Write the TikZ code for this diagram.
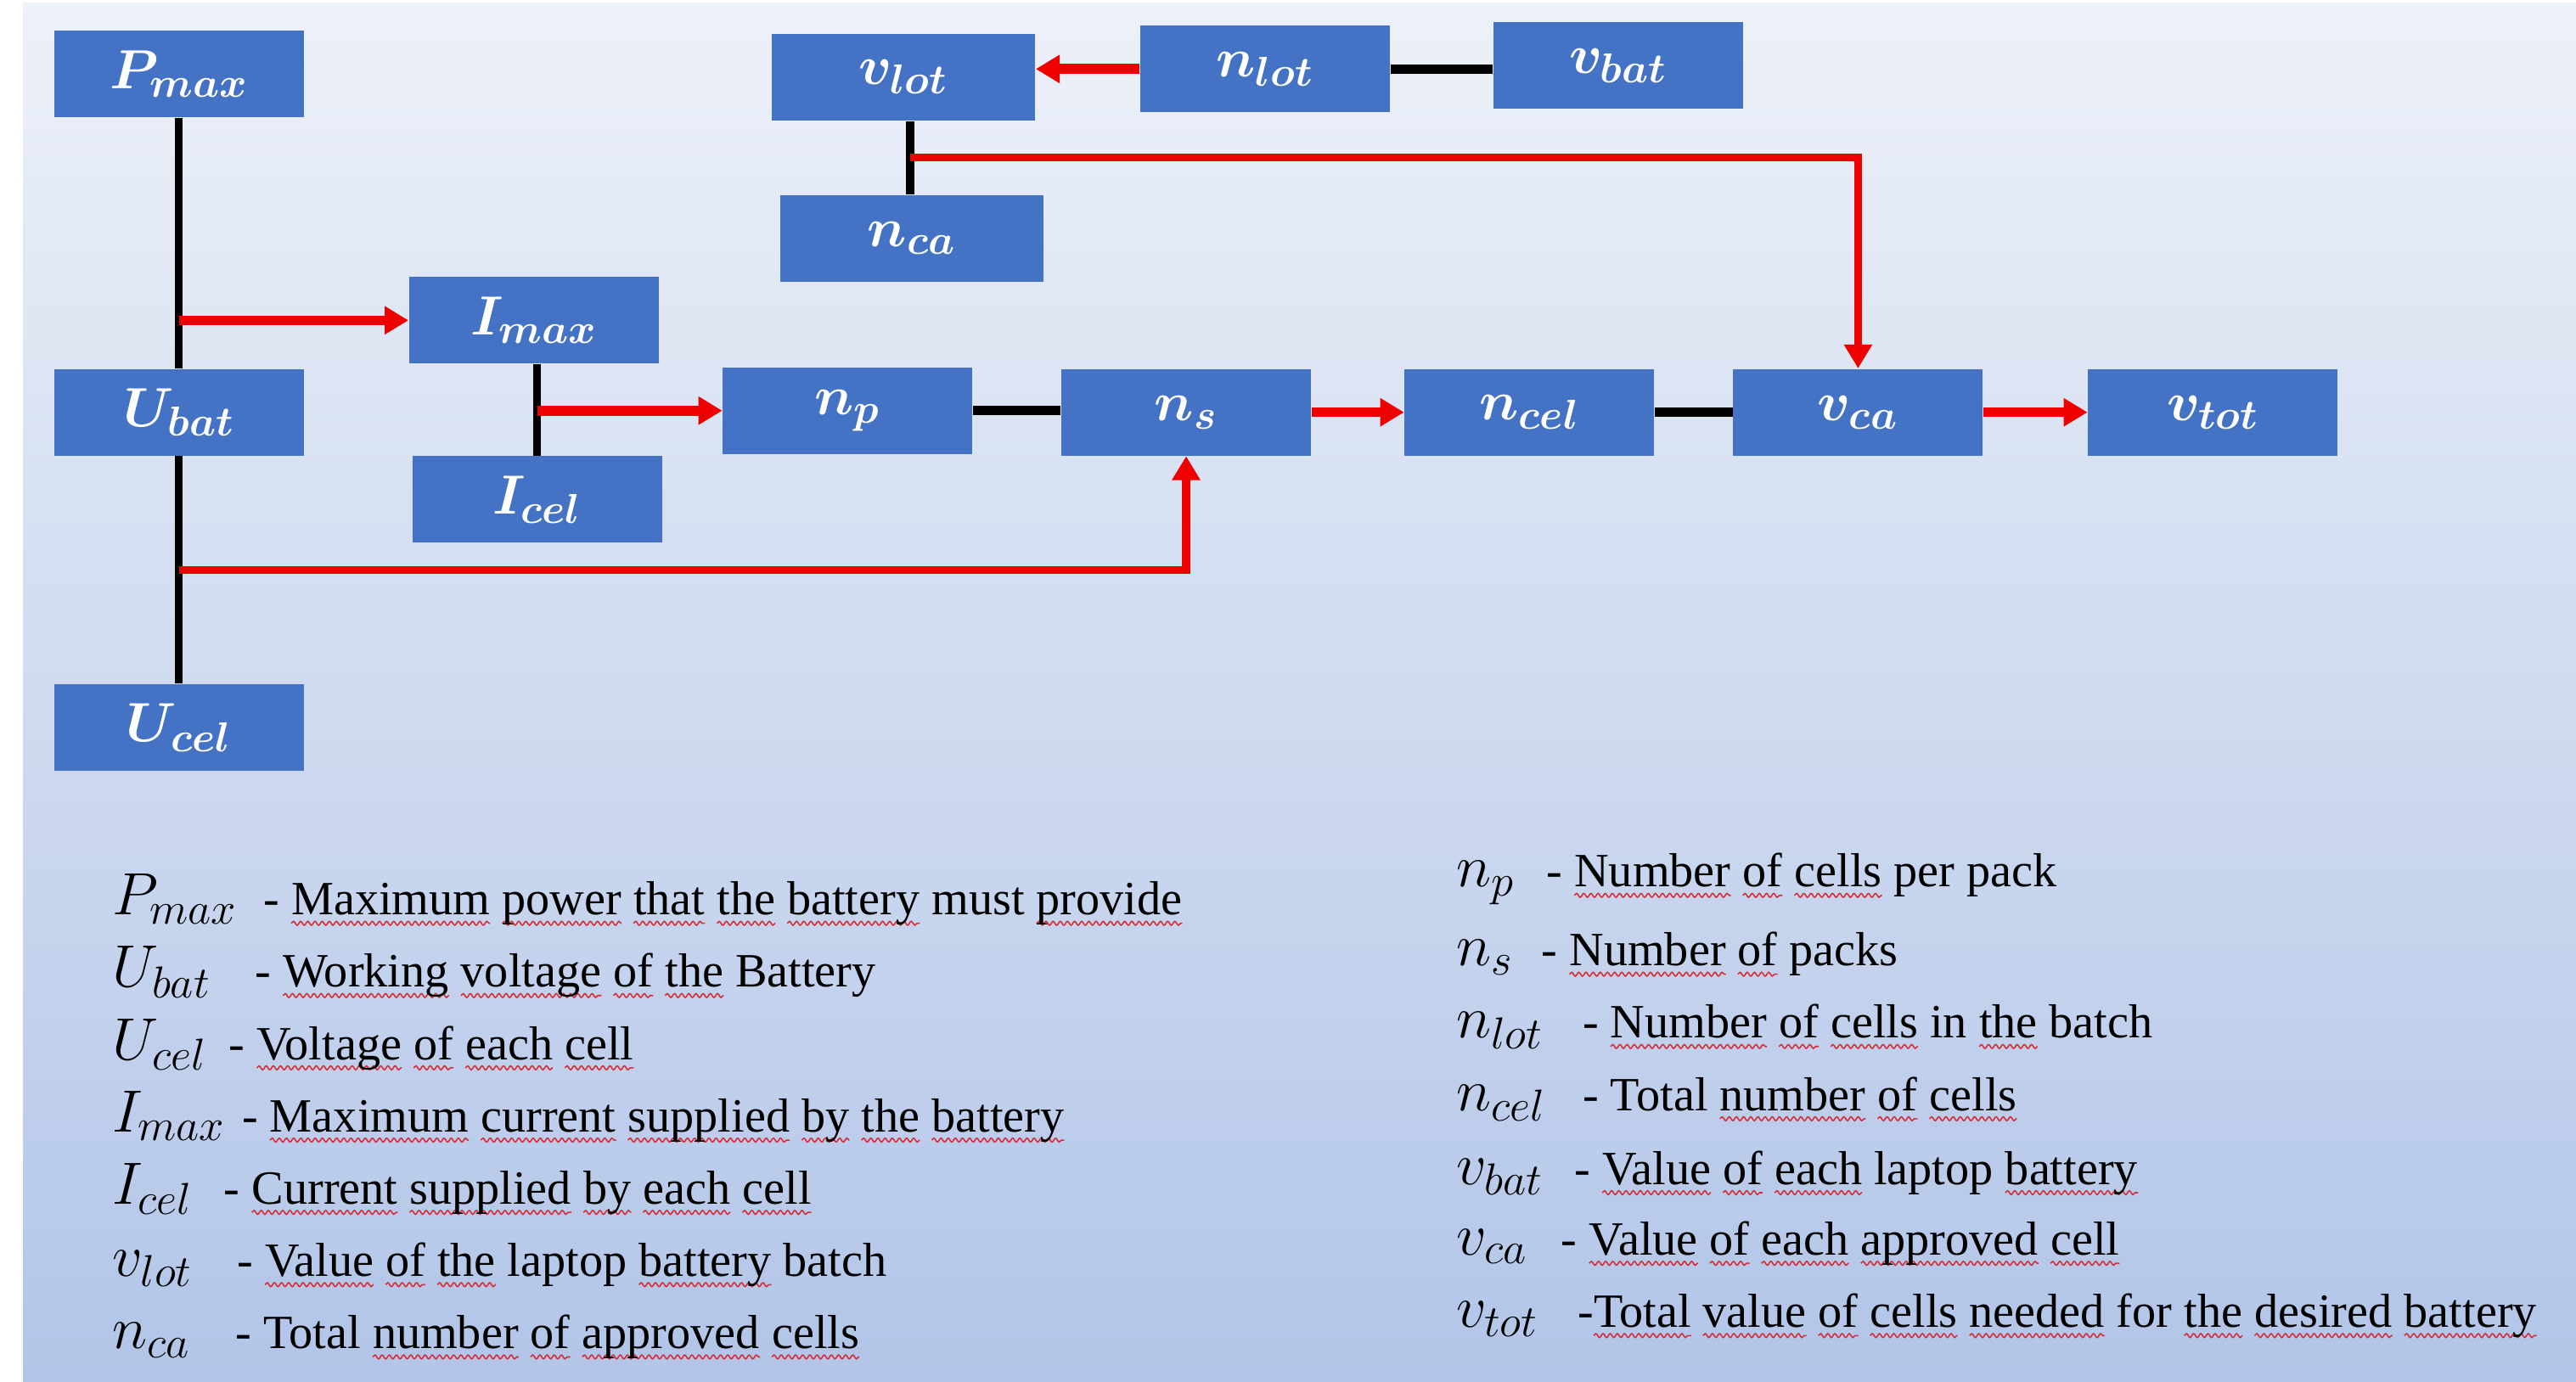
\RequirePackage{fix-cm}
\documentclass[tikz,border=0pt]{standalone}
\usepackage{fontspec}
\setmainfont{Liberation Serif}
\usepackage{amsmath}
\usetikzlibrary{arrows.meta,decorations.pathmorphing}

% larger subscripts for the variable names
\DeclareMathSizes{20}{20}{15}{11}
\DeclareMathSizes{18.5}{18.5}{14}{10}

\definecolor{boxblue}{RGB}{68,114,196}
\definecolor{bgtop}{RGB}{237,241,248}
\definecolor{bgbot}{RGB}{178,197,232}
\definecolor{linkred}{RGB}{238,0,0}
\definecolor{spellred}{RGB}{215,45,55}

% red wavy underline for single words
\newsavebox\rwbox
\newlength\rwlen
\newcommand\rw[1]{\sbox\rwbox{#1}\setlength\rwlen{\wd\rwbox}\leavevmode
  \rlap{\raisebox{-2.8pt}{\tikz[overlay,x=1pt,y=1pt]\draw[spellred,line width=0.45pt,
    decorate,decoration={snake,amplitude=0.65pt,segment length=2.4pt}] (0,0) -- (\rwlen,0);}}%
  \usebox\rwbox}

\tikzset{
  varbox/.style={fill=boxblue, text=white, minimum width=2.94cm, minimum height=1.02cm,
    inner sep=0pt, font=\fontsize{18.5}{22}\selectfont\boldmath},
  widebox/.style={varbox, minimum width=3.10cm},
  blkv/.style={line width=2.6pt, black},
  blkh/.style={line width=3.2pt, black},
  redarrow/.style={line width=3.3pt, linkred, -{Triangle[length=8pt,width=9pt]}},
  redlong/.style={line width=2.6pt, linkred, -{Triangle[length=8pt,width=9pt]}},
  sym/.style={inner sep=0pt, font=\fontsize{20}{24}\selectfont},
  desc/.style={inner sep=0pt, font=\fontsize{16}{19}\selectfont},
}

\newcommand\legrow[5]{%
  \node[sym, anchor=base west] at (#1,#2) {$#3$};
  \node[desc, anchor=base west] at (#4,#2) {#5};}

\begin{document}
\begin{tikzpicture}[x={(0.01935cm,0)}, y={(0,-0.01935cm)}]
\useasboundingbox (0,0) rectangle (1568,841);
\fill[white] (0,0) rectangle (1568,841);
\shade[top color=bgtop, bottom color=bgbot] (14,2) rectangle (1568,841);

% variable boxes
\node[varbox] (Pmax) at (109,45)  {$P_{max}$};
\node[varbox] (Ubat) at (109,251) {$U_{bat}$};
\node[varbox] (Ucel) at (109,443) {$U_{cel}$};
\node[varbox] (Imax) at (325,195) {$I_{max}$};
\node[varbox] (Icel) at (327,304) {$I_{cel}$};
\node[varbox] (np)   at (516,250) {$n_{p}$};
\node[varbox] (ns)   at (722,251) {$n_{s}$};
\node[varbox] (ncel) at (931,251) {$n_{cel}$};
\node[varbox] (vca)  at (1131,251) {$v_{ca}$};
\node[varbox] (vtot) at (1347,251) {$v_{tot}$};
\node[widebox] (vlot) at (550,47) {$v_{lot}$};
\node[varbox] (nlot) at (770,42)  {$n_{lot}$};
\node[varbox] (vbat) at (985,40)  {$v_{bat}$};
\node[widebox] (nca) at (555,145) {$n_{ca}$};

% branch points
\coordinate (j1) at (Pmax.south |- Imax.west);
\coordinate (j2) at (109,347);
\coordinate (j3) at (554,96);

% black links
\draw[blkv] (Pmax.south) -- (Ubat.north);
\draw[blkv] (Ubat.south) -- (Ucel.north);
\draw[blkv] (Icel.north |- Imax.south) -- (Icel.north);
\draw[blkv] (j3 |- vlot.south) -- (j3 |- nca.north);
\draw[blkh] (np.east) -- (np.east -| ns.west);
\draw[blkh] (ncel.east) -- (vca.west);
\draw[blkh] (nlot.east) -- (nlot.east -| vbat.west);

% red arrows
\draw[redarrow] (j1) -- (Imax.west);
\draw[redarrow] (Icel.north |- np.west) -- (np.west);
\draw[redarrow] (ns.east) -- (ncel.west);
\draw[redarrow] (vca.east) -- (vtot.west);
\draw[redarrow] (nlot.west) -- (nlot.west -| vlot.east);
\draw[redlong] (j2) -| (ns.south);
\draw[redlong] (j3) -| (vca.north);

% legend, left column
\legrow{68}{557}{P_{max}}{160}{- \rw{Maximum} \rw{power} \rw{that} \rw{the} \rw{battery} must \rw{provide}}
\legrow{68}{601}{U_{bat}}{155}{- \rw{Working} \rw{voltage} \rw{of} \rw{the} Battery}
\legrow{68}{645}{U_{cel}}{139}{- \rw{Voltage} \rw{of} \rw{each} \rw{cell}}
\legrow{68}{689}{I_{max}}{147}{- \rw{Maximum} \rw{current} \rw{supplied} \rw{by} \rw{the} \rw{battery}}
\legrow{68}{733}{I_{cel}}{136}{- \rw{Current} \rw{supplied} \rw{by} \rw{each} \rw{cell}}
\legrow{68}{777}{v_{lot}}{144}{- \rw{Value} \rw{of} \rw{the} laptop \rw{battery} batch}
\legrow{68}{821}{n_{ca}}{143}{- Total \rw{number} \rw{of} \rw{approved} \rw{cells}}

% legend, right column
\legrow{886}{540}{n_{p}}{941}{- \rw{Number} \rw{of} \rw{cells} per pack}
\legrow{886}{588}{n_{s}}{938}{- \rw{Number} \rw{of} packs}
\legrow{886}{632}{n_{lot}}{963}{- \rw{Number} \rw{of} \rw{cells} in \rw{the} batch}
\legrow{886}{676}{n_{cel}}{963}{- Total \rw{number} \rw{of} \rw{cells}}
\legrow{886}{721}{v_{bat}}{958}{- \rw{Value} \rw{of} \rw{each} laptop \rw{battery}}
\legrow{886}{764}{v_{ca}}{950}{- \rw{Value} \rw{of} \rw{each} \rw{approved} \rw{cell}}
\legrow{886}{808}{v_{tot}}{960}{-\rw{Total} \rw{value} \rw{of} \rw{cells} \rw{needed} for \rw{the} \rw{desired} \rw{battery}}
\end{tikzpicture}
\end{document}
